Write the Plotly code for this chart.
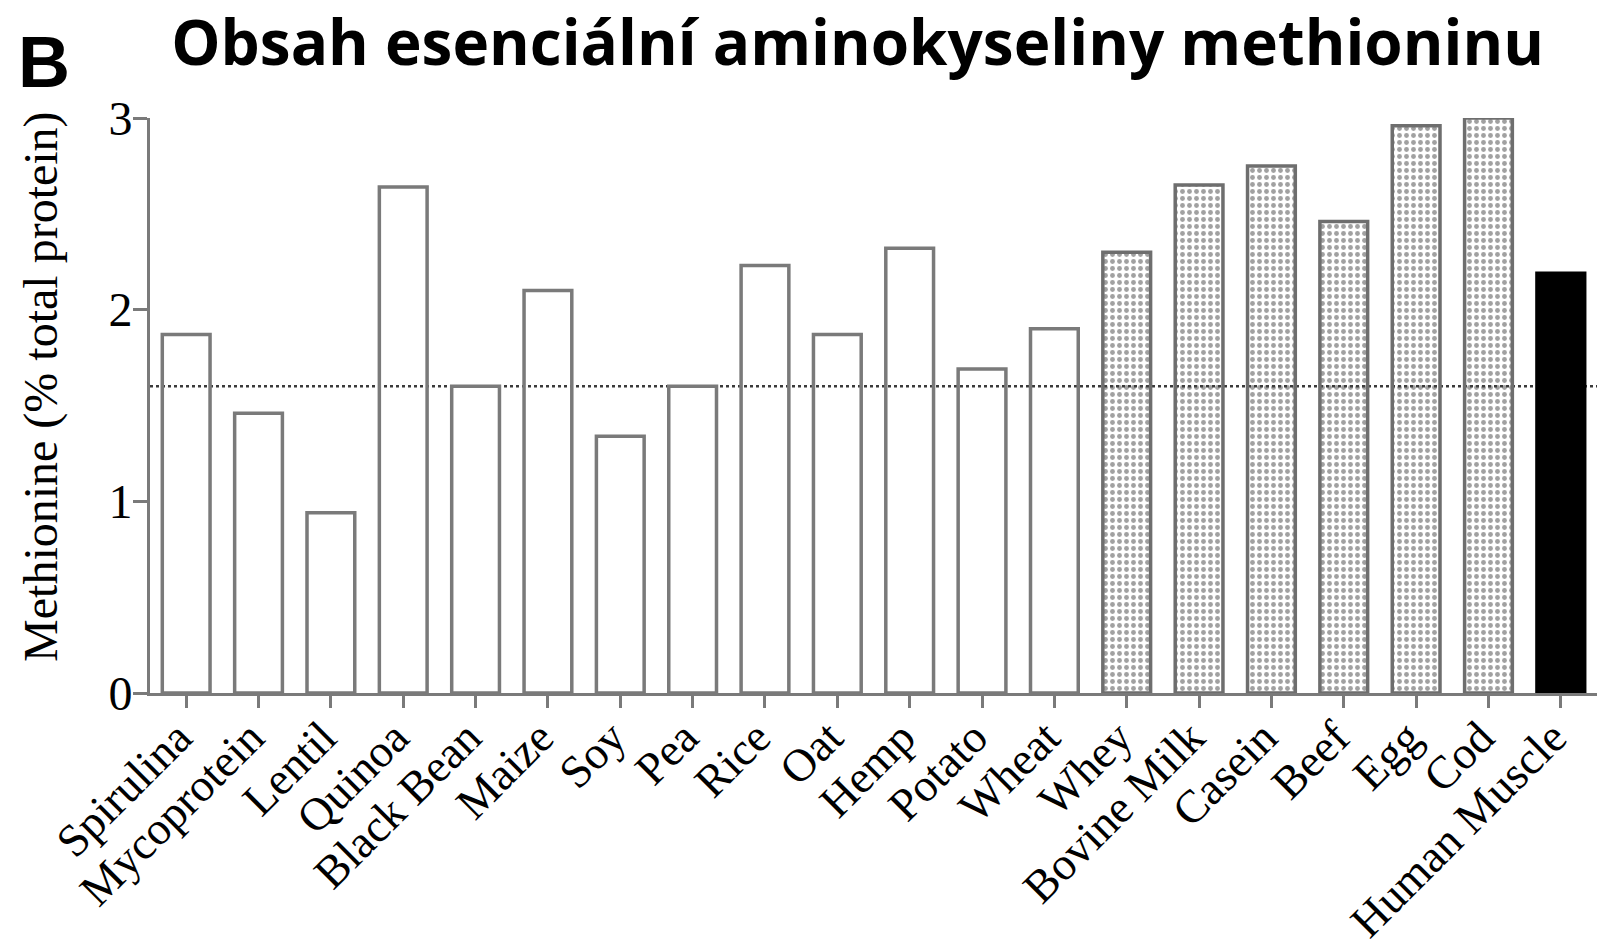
import plotly.graph_objects as go

# Methionine content of protein sources (% of total protein)
foods = ["Spirulina", "Mycoprotein", "Lentil", "Quinoa", "Black Bean", "Maize", "Soy",
         "Pea", "Rice", "Oat", "Hemp", "Potato", "Wheat", "Whey", "Bovine Milk",
         "Casein", "Beef", "Egg", "Cod", "Human Muscle"]
methionine = [1.87, 1.46, 0.94, 2.64, 1.60, 2.10, 1.34, 1.60, 2.23, 1.87, 2.32, 1.69,
              1.90, 2.30, 2.65, 2.75, 2.46, 2.96, 3.00, 2.19]
source_type = ["plant"] * 13 + ["animal"] * 6 + ["human"]
reference_level = 1.60
y_ticks = [0, 1, 2, 3]

AXIS_GREY = "#7a7a7a"
SERIF = "Liberation Serif, Times New Roman, serif"

styles = {
    "plant": dict(fill="rgba(255,255,255,0)", shape="", line=AXIS_GREY),
    "animal": dict(fill="rgba(255,255,255,0)", shape=".", line="#6e6e6e"),
    "human": dict(fill="#000000", shape="", line="#000000"),
}

fig = go.Figure()
fig.add_trace(go.Bar(
    x=foods,
    y=methionine,
    width=0.66,
    marker=dict(
        color=[styles[t]["fill"] for t in source_type],
        line=dict(color=[styles[t]["line"] for t in source_type], width=3.5),
        pattern=dict(
            shape=[styles[t]["shape"] for t in source_type],
            fgcolor="#9a9a9a",
            bgcolor="rgba(255,255,255,0)",
            size=7,
            solidity=0.38,
        ),
    ),
    showlegend=False,
))

# reference requirement line
fig.add_shape(type="line", xref="paper", x0=0, x1=1, yref="y",
              y0=reference_level, y1=reference_level,
              line=dict(color="#3a3a3a", width=2.5, dash="dot"), layer="below")

fig.update_layout(
    width=1597,
    height=948,
    margin=dict(l=150, r=0, t=118, b=255),
    plot_bgcolor="white",
    paper_bgcolor="white",
    title=dict(
        text="<b>Obsah esenciální aminokyseliny methioninu</b>",
        x=0.537, xanchor="center", y=0.954, yanchor="middle",
        font=dict(family="Open Sans, sans-serif", size=62, color="black"),
    ),
    xaxis=dict(
        range=[-0.5, 19.5],
        showline=True, linecolor=AXIS_GREY, linewidth=3,
        ticks="outside", ticklen=12, tickwidth=3, tickcolor=AXIS_GREY,
        tickangle=-45,
        ticklabelstandoff=-16, ticklabelshift=-8,
        tickfont=dict(family=SERIF, size=46, color="black"),
        showgrid=False, zeroline=False, automargin=False,
    ),
    yaxis=dict(
        range=[0, 3],
        tickvals=y_ticks,
        showline=True, linecolor=AXIS_GREY, linewidth=3,
        ticks="outside", ticklen=14, tickwidth=3, tickcolor=AXIS_GREY,
        ticklabelstandoff=-9,
        tickfont=dict(family=SERIF, size=48, color="black"),
        showgrid=False, zeroline=False, automargin=False,
    ),
    annotations=[
        dict(text="<b>B</b>", xref="paper", yref="paper",
             x=-0.073, y=1.097, xanchor="center", yanchor="middle", showarrow=False,
             font=dict(family="Liberation Sans, Arial, sans-serif", size=72, color="black")),
        dict(text="Methionine (% total protein)", xref="paper", yref="paper",
             x=-0.0755, y=0.5336, xanchor="center", yanchor="middle", showarrow=False,
             textangle=-90,
             font=dict(family=SERIF, size=48, color="black")),
    ],
)

fig.write_html("out.html")
